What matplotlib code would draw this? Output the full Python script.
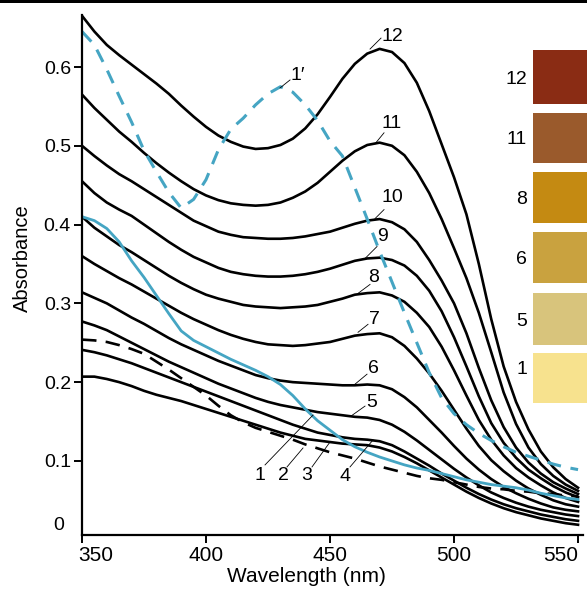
import matplotlib
matplotlib.use("Agg")
import matplotlib.pyplot as plt
from matplotlib.patches import Rectangle
from matplotlib.transforms import ScaledTranslation

plt.rcParams['font.family'] = ['Liberation Sans', 'DejaVu Sans']

# ---------------- data ----------------
wl = list(range(350, 551, 5))

c12 = [.665, .645, .628, .615, .603, .591, .579, .566, .551, .537, .524, .513, .505, .499, .496, .497,
       .501, .509, .522, .540, .562, .585, .604, .617, .623, .619, .605, .580, .544, .502, .460, .413,
       .350, .280, .220, .175, .140, .112, .092, .077, .066]
c11 = [.565, .548, .533, .518, .505, .491, .478, .466, .455, .445, .437, .431, .427, .425, .424, .425,
       .428, .434, .442, .453, .467, .481, .493, .501, .504, .500, .488, .467, .440, .407, .370, .332,
       .288, .238, .187, .147, .117, .096, .081, .070, .062]
c10 = [.500, .487, .475, .464, .455, .445, .435, .425, .415, .405, .398, .391, .387, .384, .383, .382,
       .382, .383, .385, .388, .391, .396, .401, .405, .407, .403, .394, .378, .355, .329, .300, .262,
       .218, .177, .143, .117, .098, .084, .073, .065, .058]
c9 = [.455, .440, .428, .419, .411, .400, .389, .378, .368, .359, .352, .345, .340, .337, .335, .334,
      .334, .335, .337, .340, .344, .349, .354, .357, .358, .355, .348, .335, .316, .290, .257, .220,
      .182, .148, .123, .104, .089, .078, .068, .060, .054]
c8 = [.410, .396, .385, .374, .365, .355, .345, .335, .326, .318, .311, .306, .302, .298, .296, .295,
      .294, .295, .296, .298, .302, .306, .311, .313, .314, .310, .302, .288, .270, .245, .215, .183,
      .152, .127, .107, .091, .079, .069, .060, .053, .048]
c7 = [.360, .350, .341, .332, .324, .315, .306, .297, .288, .280, .273, .266, .260, .255, .251, .248,
      .247, .246, .247, .249, .251, .255, .259, .261, .262, .257, .246, .230, .211, .189, .165, .141,
      .119, .101, .087, .075, .065, .057, .050, .045, .042]
c6 = [.314, .307, .300, .291, .282, .274, .265, .256, .248, .241, .234, .227, .221, .215, .209, .205,
      .202, .200, .199, .198, .197, .196, .196, .197, .196, .191, .181, .168, .152, .136, .119, .103,
      .089, .077, .067, .059, .052, .046, .041, .038, .036]
c5 = [.277, .272, .266, .258, .250, .242, .234, .226, .219, .212, .205, .198, .192, .186, .180, .175,
      .171, .168, .165, .162, .160, .158, .156, .155, .152, .146, .137, .126, .114, .102, .090, .079,
      .069, .060, .053, .047, .042, .038, .035, .032, .030]
c4 = [.241, .238, .234, .229, .224, .218, .212, .206, .200, .194, .188, .182, .176, .170, .164, .158,
      .152, .146, .141, .136, .133, .130, .128, .127, .125, .120, .112, .103, .094, .084, .075, .066,
      .058, .051, .045, .040, .036, .032, .029, .026, .024]
c3 = [.207, .207, .204, .200, .195, .189, .184, .180, .176, .171, .166, .161, .156, .151, .146, .141,
      .136, .132, .128, .126, .124, .122, .121, .120, .117, .112, .105, .097, .088, .079, .070, .061,
      .053, .046, .040, .035, .031, .027, .024, .021, .019]

# curve 1 (blue solid)
c1 = [.410, .405, .395, .378, .354, .333, .310, .287, .265, .253, .245, .237, .229, .222, .215, .207,
      .197, .183, .166, .151, .139, .127, .118, .111, .105, .100, .095, .091, .088, .084, .080, .076,
      .073, .070, .068, .066, .063, .059, .056, .053, .051]
# curve 2 (black dashed)
c2 = [.254, .253, .251, .247, .242, .236, .226, .216, .205, .194, .183, .170, .158, .149, .142, .137,
      .132, .127, .121, .116, .111, .107, .103, .098, .093, .089, .085, .081, .078, .076, .073, .070,
      .067, .065, .064, .062, .061, .059, .058, .056, .055]
# curve 1' (blue dashed)
c1p = [.645, .628, .597, .563, .530, .494, .467, .441, .421, .432, .457, .495, .521, .535, .552, .566,
       .575, .568, .552, .532, .506, .487, .447, .407, .366, .327, .288, .250, .212, .180, .160, .146,
       .135, .126, .118, .111, .106, .101, .096, .092, .089]

black_curves = [c3, c4, c5, c6, c7, c8, c9, c10, c11, c12]

yticks = [0.1, 0.2, 0.3, 0.4, 0.5, 0.6]
ytick_labels = ['0.1', '0.2', '0.3', '0.4', '0.5', '0.6']
xticks = [350, 400, 450, 500, 550]

swatch_labels = ['12', '11', '8', '6', '5', '1']
swatch_colors = ['#8a2c14', '#9a5a2c', '#c48a12', '#c9a23f', '#d8c47c', '#f7e28e']

# curve labels: (text, curve point px, leader end px, text centre px)
curve_labels = [
    ('12', (370, 48), (381, 37), (392, 35)),
    ('11', (375, 143), (384, 132), (392, 123)),
    ('10', (375, 218), (384, 209), (392, 197)),
    ('9', (365, 258), (377, 246), (382, 236)),
    ('8', (358, 293), (370, 284), (374, 277)),
    ('7', (358, 332), (368, 324), (374, 319)),
    ('6', (355, 384), (367, 374), (373, 368)),
    ('5', (351, 416), (365, 406), (372, 402)),
    ('4', (373, 440), (350, 467), (345, 477)),
    ('3', (330, 442), (312, 467), (307, 476)),
    ('2', (303, 448), (287, 467), (283, 476)),
    ('1', (313, 415), (265, 465), (260, 476)),
    ('1\u2032', (280, 87), (290, 79), (298, 75)),
]

# ---------------- figure ----------------
W, H = 587, 590
fig = plt.figure(figsize=(W / 100, H / 100), dpi=100)
x0, x1 = 82, 583
ybot, ytop = 535, 15
ax = fig.add_axes([x0 / W, 1 - ybot / H, (x1 - x0) / W, (ybot - ytop) / H])
ax.set_xlim(350, 552)
ax.set_ylim(0.006, 0.666)


def px2data(px, py):
    return 350 + (px - 82) / 2.48, (540 - py) / 790


blue = '#45a5c3'
for c in black_curves:
    ax.plot(wl, c, color='black', lw=1.9, solid_joinstyle='round')
ax.plot(wl, c2, color='black', lw=1.9, ls=(0, (5.5, 3.5)))
ax.plot(wl, c1, color=blue, lw=2.0, solid_joinstyle='round')
ax.plot(wl, c1p, color=blue, lw=2.2, ls=(0, (4.5, 3.2)))

for txt, cp, ep, tp in curve_labels:
    a = px2data(*cp)
    b = px2data(*ep)
    ax.plot([a[0], b[0]], [a[1], b[1]], color='black', lw=0.6)
    t = px2data(*tp)
    ax.text(t[0], t[1], txt, fontsize=14, ha='center', va='center')

for s in ['top', 'right']:
    ax.spines[s].set_visible(False)
for s in ['left', 'bottom']:
    ax.spines[s].set_linewidth(1.6)
ax.set_yticks(yticks)
ax.set_yticklabels(ytick_labels)
ax.set_xticks(xticks)
ax.tick_params(axis='y', direction='out', length=6, width=1.4, labelsize=14, pad=2)
ax.tick_params(axis='x', direction='out', length=6, width=1.4, labelsize=15, pad=2)

xl = ax.get_xticklabels()
xl[0].set_ha('left')
xl[0].set_transform(xl[0].get_transform() + ScaledTranslation(-4 / 100, 0, fig.dpi_scale_trans))
xl[-1].set_ha('right')

fig.text(59 / W, 1 - 526 / H, '0', fontsize=14, ha='center', va='center')
fig.text(306 / W, 1 - 577 / H, 'Wavelength (nm)', fontsize=15, ha='center', va='center')
fig.text(22 / W, 1 - 258 / H, 'Absorbance', fontsize=14.5, ha='center', va='center', rotation=90)

# colour swatches
sw_top = [50, 113, 172, 232, 293, 353]
sw_bot = [104, 163, 223, 283, 345, 403]
sw_lab_y = [80, 140, 200, 260, 322, 370]
for lab, col, t, b, ly in zip(swatch_labels, swatch_colors, sw_top, sw_bot, sw_lab_y):
    fig.add_artist(Rectangle((533 / W, 1 - b / H), (W - 533) / W, (b - t) / H,
                             transform=fig.transFigure, facecolor=col, edgecolor='none'))
    fig.text(527 / W, 1 - ly / H, lab, fontsize=14, ha='right', va='center')

# top border line
fig.add_artist(Rectangle((0, 1 - 3 / H), 1, 3 / H, transform=fig.transFigure,
                         facecolor='black', edgecolor='none'))

fig.savefig('out.png', dpi=100)
